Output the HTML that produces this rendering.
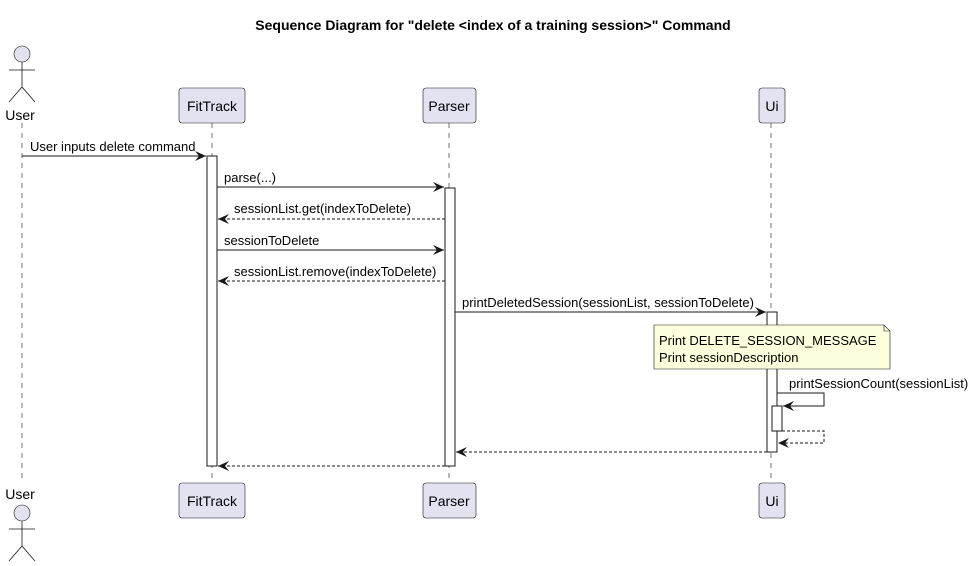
<!DOCTYPE html>
<html><head><style>body{margin:0;background:#fff}svg{display:block}</style></head><body>
<svg width="974" height="566" xmlns="http://www.w3.org/2000/svg" font-family="Liberation Sans, sans-serif" font-size="13">
<defs>
<marker id="a" markerWidth="12" markerHeight="10" refX="11" refY="5" orient="auto" markerUnits="userSpaceOnUse"><path d="M0,0 L11,5 L0,10 L4,5 Z" fill="#181818"/></marker>
</defs>
<text x="493" y="30" text-anchor="middle" font-weight="bold" font-size="14">Sequence Diagram for "delete &lt;index of a training session&gt;" Command</text>
<g stroke="#181818" stroke-dasharray="5,5" stroke-width="0.6">
<line x1="22" y1="123" x2="22" y2="483"/><line x1="212" y1="123" x2="212" y2="483"/><line x1="449" y1="123" x2="449" y2="483"/><line x1="771" y1="123" x2="771" y2="483"/>
</g>
<g fill="#E2E2F0" stroke="#181818" stroke-width="0.6">
<circle cx="22" cy="54" r="8"/><circle cx="22" cy="513" r="8"/>
<rect x="179" y="88" width="66" height="35" rx="3"/><rect x="423" y="88" width="53" height="35" rx="3"/><rect x="759" y="88" width="26" height="35" rx="3"/>
<rect x="179" y="483" width="66" height="35" rx="3"/><rect x="423" y="483" width="53" height="35" rx="3"/><rect x="759" y="483" width="26" height="35" rx="3"/>
</g>
<g stroke="#181818" fill="none" stroke-width="0.8">
<path d="M22 62V87M9 70H35M9 102L22 87L35 102"/>
<path d="M22 521V546M9 529H35M9 561L22 546L35 561"/>
</g>
<g font-size="14" text-anchor="middle">
<text x="20" y="120">User</text><text x="20" y="499">User</text>
<text x="212" y="111">FitTrack</text><text x="449" y="111">Parser</text><text x="772" y="111">Ui</text>
<text x="212" y="506">FitTrack</text><text x="449" y="506">Parser</text><text x="772" y="506">Ui</text>
</g>
<g fill="#fff" stroke="#181818" stroke-width="1">
<rect x="207" y="156" width="10" height="310"/><rect x="445" y="188" width="10" height="278"/><rect x="767" y="312" width="10" height="140"/>
</g>
<path d="M654 325H884L890 331V369H654Z" fill="#FEFFDD" stroke="#181818" stroke-width="0.6"/>
<path d="M884 325V331H890" fill="none" stroke="#181818" stroke-width="0.6"/>
<text x="659" y="345">Print DELETE_SESSION_MESSAGE</text>
<text x="659" y="362">Print sessionDescription</text>
<rect x="772" y="406" width="10" height="25" fill="#fff" stroke="#181818"/>
<g stroke="#181818" fill="none" stroke-width="1">
<line x1="22" y1="156" x2="206" y2="156" marker-end="url(#a)"/>
<line x1="217" y1="187" x2="444" y2="187" marker-end="url(#a)"/>
<line x1="445" y1="219" x2="218" y2="219" stroke-dasharray="3,2" marker-end="url(#a)"/>
<line x1="217" y1="250" x2="444" y2="250" marker-end="url(#a)"/>
<line x1="445" y1="281" x2="218" y2="281" stroke-dasharray="3,2" marker-end="url(#a)"/>
<line x1="455" y1="312" x2="766" y2="312" marker-end="url(#a)"/>
<path d="M777 393H824V406H783" marker-end="url(#a)"/>
<path d="M782 431H824V443H778" stroke-dasharray="3,2" marker-end="url(#a)"/>
<line x1="767" y1="452" x2="456" y2="452" stroke-dasharray="3,2" marker-end="url(#a)"/>
<line x1="445" y1="466" x2="218" y2="466" stroke-dasharray="3,2" marker-end="url(#a)"/>
</g>
<text x="30" y="151">User inputs delete command</text>
<text x="224" y="182">parse(...)</text>
<text x="234" y="213">sessionList.get(indexToDelete)</text>
<text x="224" y="245">sessionToDelete</text>
<text x="234" y="276">sessionList.remove(indexToDelete)</text>
<text x="462" y="307">printDeletedSession(sessionList, sessionToDelete)</text>
<text x="789" y="388">printSessionCount(sessionList)</text>
</svg>
</body></html>
